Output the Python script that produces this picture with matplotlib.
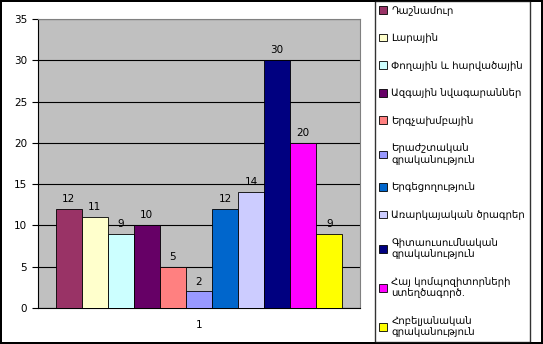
import matplotlib
matplotlib.use("Agg")
import matplotlib.pyplot as plt
import numpy as np

categories = [
    "Դաշնամուր",
    "Լարային",
    "Փողային և հարվածային",
    "Ազգային նվագարաններ",
    "Երգչախմբային",
    "Երաժշտական\nգրականություն",
    "Երգեցողություն",
    "Առարկայական ծրագրեր",
    "Գիտաուսումնական\nգրականություն",
    "Հայ կոմպոզիտորների\nստեղծագործ.",
    "Հոբելյանական\nգրականություն",
]
values = [12, 11, 9, 10, 5, 2, 12, 14, 30, 20, 9]
colors = ["#993366", "#FFFFCC", "#CCFFFF", "#660066", "#FF8080", "#9999FF",
          "#0066CC", "#CCCCFF", "#000080", "#FF00FF", "#FFFF00"]
x_label = ["1"]
y_ticks = [0, 5, 10, 15, 20, 25, 30, 35]

plt.rcParams['font.family'] = ['DejaVu Sans']

fig = plt.figure(figsize=(5.43, 3.44), dpi=100)
fig.patch.set_facecolor("white")
fig.patch.set_edgecolor("black")
fig.patch.set_linewidth(1.5)

ax = fig.add_axes([0.0694, 0.1047, 0.594, 0.840])
ax.set_facecolor("#C0C0C0")

n = len(values)
group_w = 0.889
bw = group_w / n
start = -group_w / 2
handles = []
for i, (v, c, lab) in enumerate(zip(values, colors, categories)):
    xc = start + bw * (i + 0.5)
    b = ax.bar(xc, v, width=bw, color=c, edgecolor="black", linewidth=0.6,
               label=lab, zorder=3)
    handles.append(b)
    ax.text(xc, v + 0.6, str(v), ha="center", va="bottom", fontsize=7.5, zorder=4)

ax.set_xlim(-0.5, 0.5)
ax.set_ylim(0, 35)
ax.set_yticks(y_ticks)
ax.set_yticklabels([str(t) for t in y_ticks], fontsize=7.5)
ax.set_xticks([0])
ax.set_xticklabels(x_label, fontsize=7.5)
ax.tick_params(axis="x", length=0, pad=9)
ax.tick_params(axis="y", length=4, direction="out", width=0.8)
ax.yaxis.grid(True, color="black", linewidth=0.8, zorder=0)
ax.set_axisbelow(True)
for s in ["top", "right"]:
    ax.spines[s].set_color("#808080")
ax.spines["left"].set_color("black")
ax.spines["bottom"].set_color("black")

leg = fig.legend(handles=handles, labels=categories, loc="upper left",
                 bbox_to_anchor=(0.690, 0.997), fontsize=7.3, frameon=True,
                 fancybox=False, edgecolor="black", handlelength=0.8,
                 handleheight=0.8, handletextpad=0.4, labelspacing=1.73,
                 borderpad=0.45, borderaxespad=0)
leg.get_frame().set_linewidth(1.0)

fig.savefig("out.png", dpi=100)
